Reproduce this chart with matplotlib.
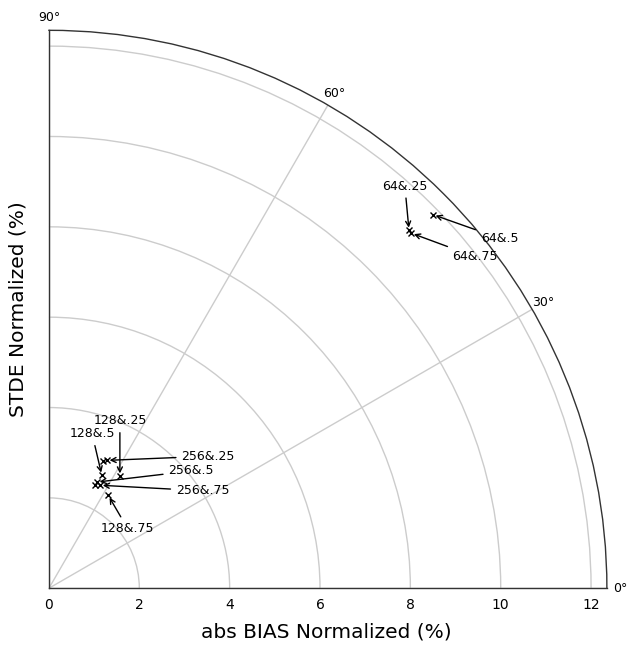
import numpy as np
import matplotlib
matplotlib.use("Agg")
import matplotlib.pyplot as plt

# abs bias (x) and stde (y), normalized, in percent
labels = ["64&.25", "64&.5", "64&.75",
          "256&.25", "", "128&.25", "128&.5", "256&.5", "256&.75", "", "128&.75"]
bias = [7.97, 8.50, 8.02,
        1.28, 1.19, 1.57, 1.17, 1.06, 1.13, 1.02, 1.31]
stde = [7.92, 8.27, 7.86,
        2.83, 2.81, 2.48, 2.50, 2.35, 2.28, 2.28, 2.06]
# label offsets in points (layout only)
offsets = [(-3, 32), (48, -17), (46, -17),
           (73, 3), None, (0, 40), (-7, 30), (68, 8), (74, -4), None, (14, -24)]

rmax = 12.35

fig = plt.figure(figsize=(6.27, 6.45), dpi=100)
ax = fig.add_axes([0.078, 0.088, 0.89, 0.865], projection="polar")
ax.set_thetamin(0)
ax.set_thetamax(90)
ax.set_rlim(0, rmax)
ax.set_rgrids([0, 2, 4, 6, 8, 10, 12],
              labels=["0", "2", "4", "6", "8", "10", "12"], fontsize=9.5)
ax.set_thetagrids([0, 30, 60, 90], labels=["0°", "30°", "60°", "90°"], fontsize=9)
ax.tick_params(axis="x", pad=-1)
ax.grid(color="#cccccc", lw=1)
for s in ax.spines.values():
    s.set_color("#333333")
    s.set_linewidth(1)

theta = np.arctan2(stde, bias)
r = np.hypot(bias, stde)
ax.plot(theta, r, "x", color="black", ms=5, mew=1)

for lab, t, rr, off in zip(labels, theta, r, offsets):
    if not lab:
        continue
    ax.annotate(lab, xy=(t, rr), xytext=off, textcoords="offset points",
                ha="center", va="center", fontsize=9,
                arrowprops=dict(arrowstyle="->", color="black", lw=1))

fig.text(0.52, 0.02, "abs BIAS Normalized (%)", ha="center", va="center", fontsize=14.5)
fig.text(0.028, 0.52, "STDE Normalized (%)", ha="center", va="center",
         rotation=90, fontsize=14.5)

fig.savefig("out.png", dpi=100)
